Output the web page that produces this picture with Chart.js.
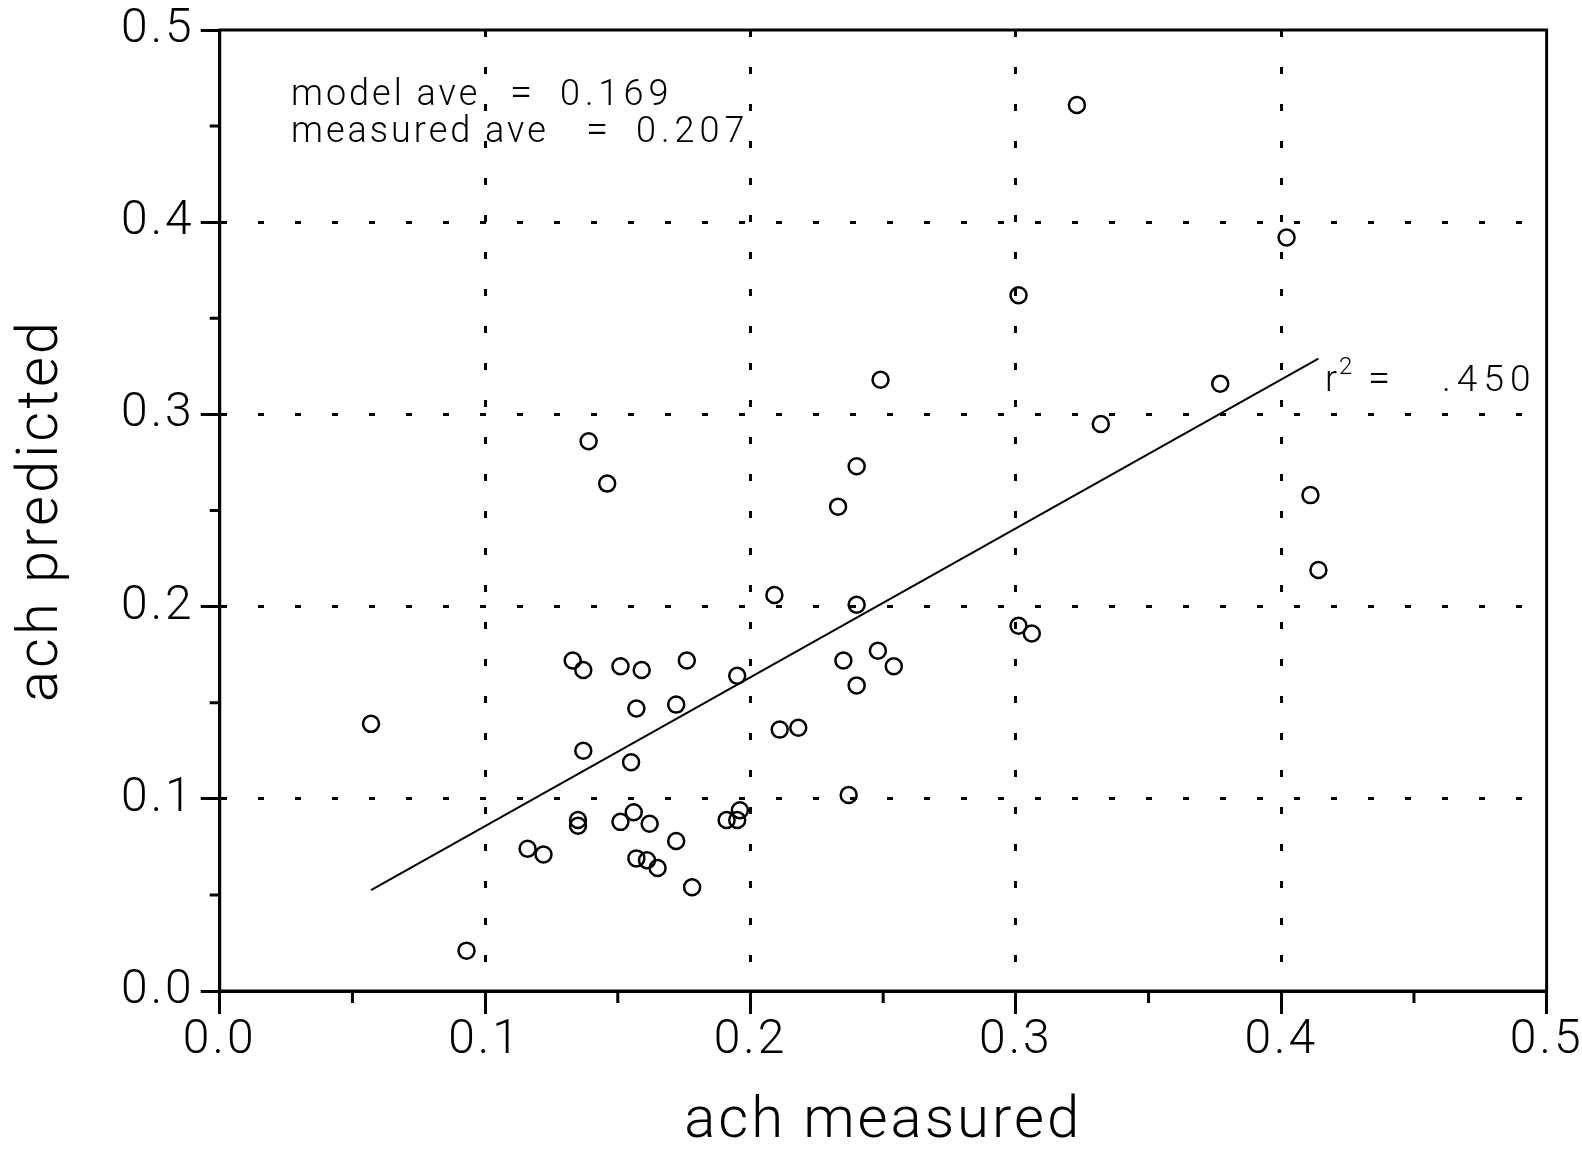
<!DOCTYPE html>
<html>
<head>
<meta charset="utf-8">
<script src="https://cdn.jsdelivr.net/npm/chart.js@4.4.0/dist/chart.umd.min.js"></script>
<style>
  html, body { margin: 0; padding: 0; background: #fff; }
  #wrap { width: 1582px; height: 1157px; }
</style>
</head>
<body>
<div id="wrap"><canvas id="c" width="1582" height="1157"></canvas></div>
<script>
// values
const measured = [0.057, 0.093, 0.116, 0.122, 0.133, 0.137, 0.135, 0.135, 0.137, 0.139,
  0.146, 0.151, 0.159, 0.157, 0.155, 0.151, 0.156, 0.162, 0.157, 0.161,
  0.165, 0.172, 0.176, 0.172, 0.178, 0.195, 0.191, 0.195, 0.196, 0.209,
  0.211, 0.218, 0.233, 0.240, 0.240, 0.235, 0.240, 0.248, 0.254, 0.237,
  0.249, 0.301, 0.306, 0.301, 0.323, 0.332, 0.377, 0.402, 0.411, 0.414];
const predicted = [0.139, 0.021, 0.074, 0.071, 0.172, 0.167, 0.089, 0.086, 0.125, 0.286,
  0.264, 0.169, 0.167, 0.147, 0.119, 0.088, 0.093, 0.087, 0.069, 0.068,
  0.064, 0.149, 0.172, 0.078, 0.054, 0.164, 0.089, 0.089, 0.094, 0.206,
  0.136, 0.137, 0.252, 0.273, 0.201, 0.172, 0.159, 0.177, 0.169, 0.102,
  0.318, 0.190, 0.186, 0.362, 0.461, 0.295, 0.316, 0.392, 0.258, 0.219];

// regression line end points
const fitX = [0.057, 0.414];
const fitY = [0.0525, 0.329];

const majorTicks = [0, 0.1, 0.2, 0.3, 0.4, 0.5];
const minorTicks = [0.05, 0.15, 0.25, 0.35, 0.45];

const noteLabels = ["model ave", "measured ave"];
const noteValues = ["0.169", "0.207"];
const fitNote = ".450";

const FONT = "Roboto, 'Liberation Sans', sans-serif";

// wider letter spacing when drawing, like the plotter font of the original
const spacingPlugin = {
  id: "spacing",
  beforeUpdate(chart) { chart.ctx.letterSpacing = "0px"; },
  beforeDraw(chart) { chart.ctx.letterSpacing = "3px"; }
};

const framePlugin = {
  id: "frame",
  afterDraw(chart) {
    const { ctx, chartArea: a, scales: { x, y } } = chart;
    ctx.save();
    ctx.strokeStyle = "#000";
    ctx.lineWidth = 3;
    ctx.setLineDash([]);
    ctx.strokeRect(a.left, a.top, a.right - a.left, a.bottom - a.top);

    // minor ticks
    ctx.beginPath();
    minorTicks.forEach(v => {
      const px = x.getPixelForValue(v);
      ctx.moveTo(px, a.bottom);
      ctx.lineTo(px, a.bottom + 12);
      const py = y.getPixelForValue(v);
      ctx.moveTo(a.left - 10, py);
      ctx.lineTo(a.left, py);
    });
    ctx.stroke();

    // text notes
    ctx.fillStyle = "#000";
    ctx.textBaseline = "alphabetic";
    ctx.textAlign = "left";
    ctx.font = "300 36px " + FONT;
    const eqX = [510, 586];
    const valX = [560, 636];
    noteLabels.forEach((t, i) => {
      const by = 105 + i * 37;
      ctx.letterSpacing = "3px";
      ctx.fillText(t, 291, by);
      ctx.font = "300 40px " + FONT;
      ctx.fillText("=", eqX[i], by);
      ctx.font = "300 36px " + FONT;
      ctx.letterSpacing = "5px";
      ctx.fillText(noteValues[i], valX[i], by);
    });

    // r^2 label
    ctx.letterSpacing = "3px";
    ctx.fillText("r", 1325, 391);
    ctx.font = "300 24px " + FONT;
    ctx.fillText("2", 1339, 374);
    ctx.font = "300 40px " + FONT;
    ctx.fillText("=", 1368, 391);
    ctx.font = "300 37px " + FONT;
    ctx.letterSpacing = "6px";
    ctx.fillText(fitNote, 1442, 391);
    ctx.restore();
  }
};

const gridColor = c => (c.tick && c.tick.value > 0 && c.tick.value < 0.5) ? "#000" : "rgba(0,0,0,0)";

new Chart(document.getElementById("c"), {
  type: "scatter",
  data: {
    datasets: [
      {
        data: measured.map((v, i) => ({ x: v, y: predicted[i] })),
        pointStyle: "circle",
        pointRadius: 8,
        borderColor: "#000",
        borderWidth: 2.5,
        backgroundColor: "rgba(0,0,0,0)"
      },
      {
        type: "line",
        data: fitX.map((v, i) => ({ x: v, y: fitY[i] })),
        borderColor: "#000",
        borderWidth: 2,
        pointRadius: 0,
        fill: false
      }
    ]
  },
  options: {
    responsive: false,
    animation: false,
    devicePixelRatio: 1,
    layout: { padding: { top: 28, right: 34, left: 0, bottom: 0 } },
    plugins: { legend: { display: false }, tooltip: { enabled: false } },
    scales: {
      x: {
        type: "linear",
        min: 0,
        max: 0.5,
        afterBuildTicks: s => { s.ticks = majorTicks.map(v => ({ value: v })); },
        grid: { color: gridColor, lineWidth: 3, tickLength: 23, tickColor: "#000", tickWidth: 3 },
        border: { color: "#000", width: 3, dash: [7, 30], dashOffset: 0 },
        ticks: {
          color: "#000",
          padding: 3,
          font: { family: FONT, size: 48, weight: 300, lineHeight: 1 },
          callback: v => v.toFixed(1)
        },
        title: {
          display: true,
          text: "ach measured",
          color: "#000",
          font: { family: FONT, size: 58, weight: 300, lineHeight: 1 },
          padding: { top: 25, bottom: 6 }
        }
      },
      y: {
        type: "linear",
        min: 0,
        max: 0.5,
        afterBuildTicks: s => { s.ticks = majorTicks.map(v => ({ value: v })); },
        grid: { color: gridColor, lineWidth: 3, tickLength: 19, tickColor: "#000", tickWidth: 3 },
        border: { color: "#000", width: 3, dash: [6, 31], dashOffset: 0 },
        ticks: {
          color: "#000",
          padding: 6,
          font: { family: FONT, size: 48, weight: 300, lineHeight: 1 },
          callback: v => v.toFixed(1)
        },
        title: {
          display: true,
          text: "ach predicted",
          color: "#000",
          font: { family: FONT, size: 58, weight: 300, lineHeight: 1 },
          padding: { top: 13, bottom: 53 }
        }
      }
    }
  },
  plugins: [spacingPlugin, framePlugin]
});
</script>
</body>
</html>
